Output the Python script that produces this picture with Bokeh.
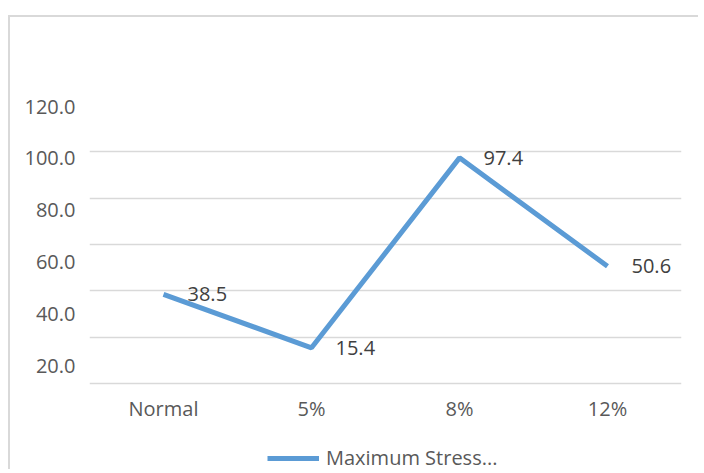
from bokeh.plotting import figure
from bokeh.models import (Range1d, LinearAxis, FixedTicker, NumeralTickFormatter,
                          ColumnDataSource, Legend, LegendItem)
from bokeh.core.properties import value
from bokeh.embed import file_html
from bokeh.resources import INLINE

categories = ["Normal", "5%", "8%", "12%"]
stress = [38.5, 15.4, 97.4, 50.6]
grid_ticks = [0, 20, 40, 60, 80, 100, 120]
y_ticks = [20, 40, 60, 80, 100, 120]
series_name = "Maximum Stress..."
point_labels = [f"{v:.1f}" for v in stress]
baseline = [0] * len(categories)

FONT = "Open Sans"
src = ColumnDataSource(dict(x=categories, y=stress, lab=point_labels))
cat_src = ColumnDataSource(dict(x=categories, y=baseline, lab=categories))

# the frame reaches down to the legend; value 0 is the category axis line
p = figure(width=690, height=454, x_range=categories, y_range=Range1d(-37.99, 120),
           output_backend="svg", toolbar_location=None, x_axis_location=None,
           min_border_left=79, min_border_right=19, min_border_top=88, min_border_bottom=0)
p.styles = {"border-left": "2px solid #d9d9d9", "border-top": "2px solid #d9d9d9",
            "margin-top": "15px", "margin-left": "8px"}
p.outline_line_color = None
p.background_fill_color = "white"
p.border_fill_color = "white"
p.xgrid.visible = False
p.yaxis.visible = False
p.ygrid.ticker = FixedTicker(ticks=grid_ticks)
p.ygrid.grid_line_color = "#d9d9d9"
p.ygrid.grid_line_width = 1.3

# value-label axis (labels placed as in the reference)
p.extra_y_ranges = {"lab": Range1d(-20.92, 120.39)}
ax = LinearAxis(y_range_name="lab", ticker=FixedTicker(ticks=y_ticks),
                formatter=NumeralTickFormatter(format="0.0"))
ax.axis_line_color = None
ax.major_tick_line_color = None
ax.minor_tick_line_color = None
ax.major_tick_out = 0
ax.major_tick_in = 0
ax.major_label_standoff = 14
ax.major_label_text_font = FONT
ax.major_label_text_font_size = "20px"
ax.major_label_text_color = "#595959"
p.add_layout(ax, "left")

# category labels under the axis line
p.text("x", "y", text="lab", source=cat_src, y_offset=25,
       text_align="center", text_baseline="middle", text_font=value(FONT),
       text_font_size="20px", text_color="#595959")

ln = p.line("x", "y", source=src, line_width=5, line_color="#5b9bd5")
p.text("x", "y", text="lab", source=src, x_offset=24, y_offset=0,
       text_align="left", text_baseline="middle", text_font=value(FONT),
       text_font_size="20px", text_color="#404040")

legend = Legend(items=[LegendItem(label=series_name, renderers=[ln])],
                location=(178, 0), orientation="horizontal")
legend.border_line_color = None
legend.background_fill_alpha = 0
legend.padding = 0
legend.margin = 0
legend.glyph_width = 52
legend.label_standoff = 7
legend.label_text_font = FONT
legend.label_text_font_size = "20px"
legend.label_text_color = "#595959"
p.add_layout(legend)

open("out.html", "w").write(file_html(p, INLINE))
